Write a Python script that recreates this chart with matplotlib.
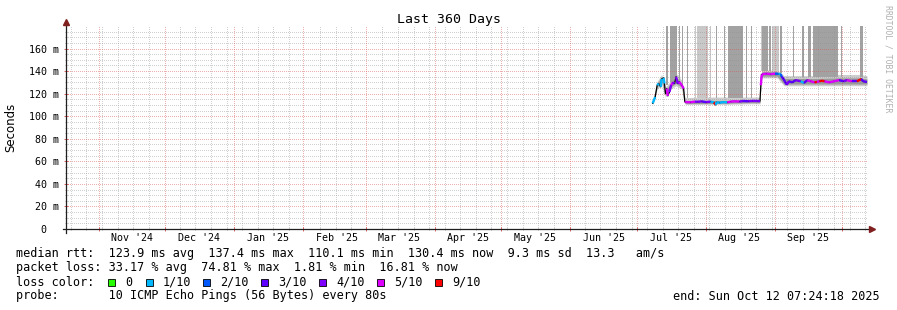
import numpy as np
import pandas as pd
import matplotlib
matplotlib.use('Agg')
import matplotlib.pyplot as plt
from matplotlib.patches import Rectangle

end = pd.Timestamp('2025-10-12 07:24:18')
start = end - pd.Timedelta(days=360)
base = pd.Timestamp('2025-07-01')  # day numbers below count from here

# median rtt : day, ms, loss class (-1 = only the black line shows)
med_day = [7.0, 8.1, 9.0, 9.7, 10.6, 11.0, 11.9, 12.3, 12.7, 13.3, 13.8, 14.5, 15.3, 16.0, 16.8,
           17.5, 18.2, 18.9, 20.1, 20.9, 21.4, 21.8, 24, 26, 27, 29, 31, 33, 34.5, 35.3, 35.7,
           37, 39, 40.5, 42, 44, 46, 47.5, 50, 52, 54, 55.2, 55.6, 56.0, 58, 60, 62, 63.5,
           64.5, 65.0, 65.7, 66.6, 67.3, 68.2, 69.7, 71.2, 73.5, 75.0, 76.5, 78.0, 79.8,
           80.8, 82.0, 83.0, 84.2, 86.3, 88.5, 90.8, 92.8, 94.3, 96.5, 98.8, 100.8, 101.5, 103.3]
med_ms = [111.5, 117, 127.5, 129, 126, 133, 134, 129, 120, 124.5, 118, 121.5, 127.5, 130, 129,
          135, 129, 130.5, 127.5, 124.5, 113, 112.6, 112.4, 113, 112.8, 113.2, 112.5, 113, 112.2, 110, 112.4,
          112, 112.6, 112.2, 113, 113.2, 113, 113.5, 113.3, 113.6, 113.5, 113.4, 127.5, 137, 137.8, 137.3, 137.8, 137.5,
          137.4, 135, 133.3, 130, 128, 131, 130, 132, 131, 129.5, 132, 131, 130,
          130.5, 131, 131.5, 131, 130, 131, 132, 131, 132, 131, 131, 133, 131, 130.4]
med_loss = [1, 1, -1, 1, -1, 1, -1, 1, -1, -1, 5, -1, 4, 5, 4,
            -1, 4, 4, 5, 5, -1, 5, 5, 5, 4, 4, 3, 4, 1, 6, 1,
            1, 1, 1, 5, 5, 5, 4, 3, 4, 4, 4, -1, 5, 5, 5, 5, 2,
            1, 2, 3, 3, 3, 4, 3, 3, 4, 1, 3, 5, 5,
            6, 5, 6, 6, 5, 5, 5, 3, 4, 5, 3, 6, 3, 3]

# smoke around the median
smoke_day = [7, 9, 11, 12.7, 15, 17.5, 20, 21.4, 22, 30, 40, 50, 55.2, 55.6, 56, 63, 66, 70, 80, 90, 100, 103.3]
smoke_lo = [110, 124, 128, 117, 124, 127, 124, 111, 110.5, 110.5, 110.5, 111, 111, 126, 134, 134, 127, 127, 127, 127, 127, 127]
smoke_hi = [114, 131, 137, 126, 131, 138, 132, 117, 116.5, 117, 117, 117, 117, 132, 141, 141, 136, 136, 136, 137, 137, 136]
core_lo = [111, 126, 131, 119, 126, 129, 126, 112, 111.2, 111.2, 111.5, 112, 112, 127, 135.5, 135.5, 128.5, 128.5, 128.5, 128.5, 128.5, 128.5]
core_hi = [113, 129, 135, 123, 129, 135, 129, 114, 113.8, 114, 114, 114.5, 114.5, 130, 139.5, 139.5, 133.5, 133.5, 133.5, 134, 134, 133]

# tall smoke where pings went off the top
spike_start = [13.0, 14.8, 18.7, 20.0, 22.3, 26.1, 27.0, 32.6, 35.3, 38.9, 40.9, 48.8, 51.0,
               55.7, 56.2, 59.3, 60.6, 64.2, 70.0, 74.1, 76.8, 79.1, 91.6, 100.2]
spike_end = [14.0, 18.0, 19.1, 20.4, 23.0, 26.5, 32.0, 33.0, 35.7, 39.3, 47.6, 49.2, 51.4,
             56.2, 58.9, 60.2, 63.8, 65.1, 70.4, 75.0, 78.2, 90.3, 92.0, 101.5]
spike_lo = [128, 130, 130, 128, 116, 116, 116, 116, 116, 116, 116, 116, 116,
            140, 140, 140, 140, 138, 135, 135, 135, 135, 135, 135]
spike_dark = [1, 1, 1, 1, 1, 0, 0, 0, 1, 1, 1, 1, 1,
              0, 1, 1, 0, 1, 1, 1, 1, 1, 1, 1]

loss_labels = ['0', '1/10', '2/10', '3/10', '4/10', '5/10', '9/10']
loss_colors = ['#26ff00', '#00b8ff', '#0059ff', '#5e00ff', '#7e00ff', '#dd00ff', '#ff0000']


def to_t(days):
    return base + pd.to_timedelta(np.asarray(days, dtype=float), unit='D')


mono = 'DejaVu Sans Mono'
W, H = 897, 310
fig = plt.figure(figsize=(W / 100, H / 100), dpi=100)
fig.patch.set_facecolor('white')
# plot area on whole pixels so the 1px dotted grid stays crisp
ax = fig.add_axes([66 / W, 81 / H, 801 / W, 203 / H])
ax.set_xlim(start, end)
ax.set_ylim(0, 180)
for s in ax.spines.values():
    s.set_visible(False)

# smoke
st = to_t(smoke_day)
ax.fill_between(st, smoke_lo, smoke_hi, color='#cdcdcd', lw=0, zorder=1)
ax.fill_between(st, core_lo, core_hi, color='#9a9a9a', lw=0, zorder=1)
for a, b, lo, dk in zip(spike_start, spike_end, spike_lo, spike_dark):
    ax.fill_between(to_t([a, b]), [lo, lo], [200, 200],
                    color='#a2a2a2' if dk else '#c8c8c8', lw=0, zorder=1)

# grid on top of the smoke: 1px dots, pattern shifted half a pixel to sit on whole pixels
dot = dict(lw=0.72, ls=(0.5, (1, 1)), snap=True, zorder=2)
minor_c = (0.56, 0.56, 0.56, 0.42)
major_c = (0.87, 0.31, 0.31, 0.45)
weeks = pd.date_range('2024-10-19 12:00', end, freq='7D')
months = pd.date_range('2024-11-01', end, freq='MS')
# a week line that falls on a month line is left out
weeks = [w for w in weeks if min(abs((w - m).total_seconds()) for m in months) > 86400]
for w in weeks:
    ax.axvline(w, color=minor_c, **dot)
for v in range(5, 180, 5):
    if v % 20:
        ax.axhline(v, color=minor_c, **dot)
for m in months:
    ax.axvline(m, color=major_c, **dot)
for v in range(20, 180, 20):
    ax.axhline(v, color=major_c, **dot)

# median line
mt = to_t(med_day)
ax.plot(mt, med_ms, color='black', lw=0.9, zorder=3)
for i in range(1, len(med_day)):
    if med_loss[i] >= 0:
        ax.plot(mt[i - 1:i + 1], med_ms[i - 1:i + 1], color=loss_colors[med_loss[i]],
                lw=1.7, solid_capstyle='butt', zorder=4)

# ticks
ax.set_xticks(months)
ax.set_xticks(weeks, minor=True)
ax.set_xticklabels([])
ax.tick_params(axis='x', which='major', length=2.5, width=0.7, color='#e06060', direction='inout')
ax.tick_params(axis='x', which='minor', length=2, width=0.7, color='#aaaaaa', direction='inout')
ax.set_yticks(range(0, 180, 20))
ax.set_yticks(range(0, 180, 5), minor=True)
ax.set_yticklabels(['0  '] + ['%d m' % v for v in range(20, 180, 20)], family=mono, fontsize=7.2)
ax.tick_params(axis='y', which='major', length=2.5, width=0.7, color='#e06060', direction='inout', pad=4)
ax.tick_params(axis='y', which='minor', length=2, width=0.7, color='#aaaaaa', direction='inout')

mid = pd.date_range('2024-11-01', '2025-09-01', freq='MS') + pd.Timedelta(days=15)
for m in mid:
    ax.text(m, -8.2, m.strftime("%b '%y"), family=mono, fontsize=7.2, ha='center', va='center')

# axis lines with arrows
ax.plot([-0.004, 1.004], [0, 0], transform=ax.transAxes, color='#1f1f1f', lw=0.9, clip_on=False, zorder=5)
ax.plot([0, 0], [-0.022, 1.02], transform=ax.transAxes, color='#1f1f1f', lw=0.9, clip_on=False, zorder=5)
ax.plot([1.006], [0], marker='>', ms=4, color='#801f1f', transform=ax.transAxes, clip_on=False, zorder=6)
ax.plot([0], [1.022], marker='^', ms=4, color='#801f1f', transform=ax.transAxes, clip_on=False, zorder=6)

# texts
fig.text(448.5 / W, 1 - 19 / H, 'Last 360 Days', family=mono, fontsize=9.5, ha='center', va='center')
fig.text(11 / W, 1 - 127.5 / H, 'Seconds', family='DejaVu Sans', fontsize=8.5, rotation=90,
         ha='center', va='center')
fig.text(888 / W, 1 - 59 / H, 'RRDTOOL / TOBI OETIKER', family=mono, fontsize=5.9, rotation=270,
         ha='center', va='center', color='#b0b0b0')

lx = 16 / W
fig.text(lx, 1 - 254 / H, 'median rtt:  123.9 ms avg  137.4 ms max  110.1 ms min  130.4 ms now  9.3 ms sd  13.3   am/s',
         family=mono, fontsize=8.5, va='center')
fig.text(lx, 1 - 268 / H, 'packet loss: 33.17 % avg  74.81 % max  1.81 % min  16.81 % now',
         family=mono, fontsize=8.5, va='center')
fig.text(lx, 1 - 282 / H, 'loss color:', family=mono, fontsize=8.5, va='center')
fig.text(lx, 1 - 296 / H, 'probe:       10 ICMP Echo Pings (56 Bytes) every 80s',
         family=mono, fontsize=8.5, va='center')
fig.text(880 / W, 1 - 296 / H, 'end: Sun Oct 12 07:24:18 2025', family=mono, fontsize=8.5,
         va='center', ha='right')

sq_x = [108, 146, 203, 261, 319, 377, 435]
for x, lab, col in zip(sq_x, loss_labels, loss_colors):
    fig.add_artist(Rectangle((x / W, 1 - 286 / H), 7 / W, 7 / H, transform=fig.transFigure,
                             facecolor=col, edgecolor='black', lw=0.6))
    fig.text((x + 17) / W, 1 - 282 / H, lab, family=mono, fontsize=8.5, va='center')

fig.savefig('out.png', dpi=100)
